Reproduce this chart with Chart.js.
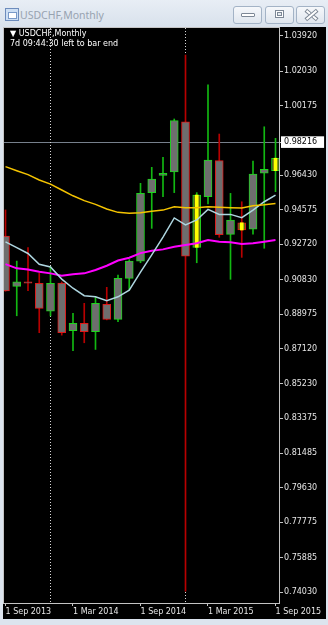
<!DOCTYPE html>
<html>
<head>
<meta charset="utf-8">
<script src="https://cdn.jsdelivr.net/npm/chart.js@4.4.0/dist/chart.umd.min.js"></script>
<style>
  html, body { margin: 0; padding: 0; }
  body { width: 328px; height: 625px; background: #dce4ee; position: relative; overflow: hidden; font-family: "DejaVu Sans", sans-serif; }
  #titlebar { position: absolute; left: 0; top: 0; width: 328px; height: 27px; background: linear-gradient(#e8eef5, #d8e1ec); }
  #icon { position: absolute; left: 5px; top: 8px; width: 12px; height: 11px; border: 1px solid #6d8cbc; background: #cddff4; }
  #icon:after { content: ""; position: absolute; left: 2px; top: 3px; width: 7px; height: 5px; border: 1px solid #7a9ac8; background: #fff; }
  #wtitle { position: absolute; left: 20px; top: 8px; font-family: "Noto Sans", sans-serif; font-size: 10.5px; line-height: 14px; color: #98a3b0; }
  .btn { position: absolute; top: 6px; width: 27px; height: 16px; border: 1px solid #a3b3c6; border-radius: 3px; background: linear-gradient(#f6f8fb, #dfe6ee); }
  #bmin { left: 233px; } #bmax { left: 265px; } #bclose { left: 296px; }
  #bmin i { position: absolute; left: 7px; top: 6px; width: 12px; height: 2px; border: 1px solid #7d8896; border-radius: 1px; background: #fff; }
  #bmax i { position: absolute; left: 9px; top: 3px; width: 7px; height: 6px; border: 1px solid #7d8896; background: #fff; }
  #bmax i:after { content: ""; position: absolute; left: 1px; top: 1px; width: 3px; height: 2px; border: 1px solid #7d8896; background: #e6ebf0; }
  #bclose i, #bclose b { position: absolute; left: 7px; top: 6px; width: 13px; height: 2px; border: 1px solid #7d8896; background: #fff; }
  #bclose i { transform: rotate(40deg); } #bclose b { transform: rotate(-40deg); }
  #wrap { position: absolute; left: 3px; top: 27px; width: 323px; height: 592px; background: #000; }
  canvas { display: block; }
  #legend { position: absolute; left: 7px; top: 2px; font-size: 8px; line-height: 10px; color: #fff; white-space: nowrap; }
</style>
</head>
<body>
<div id="titlebar">
  <div id="icon"></div>
  <div id="wtitle">USDCHF,Monthly</div>
  <div class="btn" id="bmin"><i></i></div>
  <div class="btn" id="bmax"><i></i></div>
  <div class="btn" id="bclose"><i></i><b></b></div>
</div>
<div id="wrap">
  <canvas id="chart" width="323" height="592"></canvas>
  <div id="legend">&#9660;&nbsp;USDCHF,Monthly<br>7d 09:44:30 left to bar end</div>
</div>
<script>
const months = ["Sep 2013", "Oct 2013", "Nov 2013", "Dec 2013", "Jan 2014", "Feb 2014", "Mar 2014", "Apr 2014",
  "May 2014", "Jun 2014", "Jul 2014", "Aug 2014", "Sep 2014", "Oct 2014", "Nov 2014", "Dec 2014",
  "Jan 2015", "Feb 2015", "Mar 2015", "Apr 2015", "May 2015", "Jun 2015", "Jul 2015", "Aug 2015", "Sep 2015"];

const openP  = [0.9317, 0.9046, 0.9071, 0.9062, 0.8913, 0.9064, 0.8808, 0.8847, 0.8802, 0.8950, 0.8869, 0.9089,
  0.9182, 0.9550, 0.9643, 0.9662, 0.9931, 0.9256, 0.9528, 0.9722, 0.9326, 0.9388, 0.9354, 0.9654, 0.9668];
const highP  = [0.9457, 0.9182, 0.9254, 0.9116, 0.9152, 0.9070, 0.8901, 0.8955, 0.8990, 0.9041, 0.9107, 0.9190,
  0.9600, 0.9686, 0.9740, 0.9946, 1.0290, 0.9550, 1.0129, 0.9865, 0.9546, 0.9501, 0.9720, 0.9904, 0.9842];
const lowP   = [0.9020, 0.8888, 0.9023, 0.8797, 0.8887, 0.8784, 0.8700, 0.8743, 0.8707, 0.8866, 0.8856, 0.9026,
  0.9173, 0.9358, 0.9528, 0.9550, 0.7408, 0.9173, 0.9489, 0.9310, 0.9084, 0.9202, 0.9327, 0.9251, 0.9555];
const closeP = [0.9022, 0.9071, 0.9063, 0.8928, 0.9062, 0.8797, 0.8847, 0.8802, 0.8955, 0.8869, 0.9089, 0.9182,
  0.9546, 0.9623, 0.9654, 0.9937, 0.9209, 0.9537, 0.9725, 0.9324, 0.9403, 0.9349, 0.9650, 0.9675, 0.9735];

// moving averages
const maGold    = [0.9690, 0.9668, 0.9647, 0.9618, 0.9596, 0.9564, 0.9533, 0.9507, 0.9487, 0.9462, 0.9444, 0.9439,
  0.9442, 0.9450, 0.9456, 0.9474, 0.9469, 0.9469, 0.9474, 0.9471, 0.9469, 0.9467, 0.9480, 0.9485, 0.9492];
const maBlue    = [0.9285, 0.9254, 0.9223, 0.9165, 0.9150, 0.9085, 0.9036, 0.8996, 0.8990, 0.8969, 0.8990, 0.9026,
  0.9123, 0.9215, 0.9311, 0.9414, 0.9376, 0.9403, 0.9460, 0.9433, 0.9433, 0.9415, 0.9456, 0.9501, 0.9537];
const maMagenta = [0.9166, 0.9143, 0.9137, 0.9125, 0.9116, 0.9103, 0.9111, 0.9116, 0.9134, 0.9157, 0.9185, 0.9200,
  0.9225, 0.9238, 0.9245, 0.9259, 0.9268, 0.9278, 0.9295, 0.9286, 0.9283, 0.9274, 0.9278, 0.9286, 0.9295];

const marked = ["Feb 2015", "Jun 2015", "Sep 2015"];   // bars with yellow fill
const separators = ["Jan 2014", "Jan 2015"];
const xTickMonths = ["Sep 2013", "Mar 2014", "Sep 2014", "Mar 2015", "Sep 2015"];
const yTicks = [1.03920, 1.02030, 1.00175, 0.96430, 0.94575, 0.92720, 0.90830, 0.88975, 0.87120,
  0.85230, 0.83375, 0.81485, 0.79630, 0.77775, 0.75885, 0.74030];
const currentPrice = 0.98216;

const isBull = i => closeP[i] >= openP[i];

const overlay = {
  id: 'overlay',
  beforeDatasetsDraw(chart) {
    const { ctx, chartArea: a, scales: { x, y } } = chart;
    ctx.save();
    ctx.lineWidth = 1;
    ctx.strokeStyle = '#c4c4c4';
    ctx.strokeRect(a.left - 0.5, a.top - 0.5, a.right - a.left + 1, a.bottom - a.top + 1);
    const py = Math.floor(y.getPixelForValue(currentPrice)) + 0.5;
    ctx.strokeStyle = '#77808c';
    ctx.beginPath(); ctx.moveTo(a.left, py); ctx.lineTo(a.right, py); ctx.stroke();
    ctx.strokeStyle = '#d8d8d8';
    ctx.setLineDash([1, 2]);
    separators.forEach(m => {
      const px = Math.floor(x.getPixelForValue(months.indexOf(m))) + 0.5;
      ctx.beginPath(); ctx.moveTo(px, a.top); ctx.lineTo(px, a.bottom); ctx.stroke();
    });
    ctx.restore();
  }
};

const lineSet = (vals, color, w) => ({
  type: 'line',
  data: vals.map((v, i) => ({ x: i, y: v })),
  borderColor: color,
  borderWidth: w,
  pointRadius: 0,
  tension: 0,
  order: 0
});

new Chart("chart", {
  type: "bar",
  data: {
    datasets: [
      {
        data: months.map((m, i) => ({ x: i, y: [lowP[i], highP[i]] })),
        backgroundColor: months.map((m, i) => isBull(i) ? '#12b812' : '#b80000'),
        borderWidth: 0,
        barThickness: 1,
        grouped: false,
        order: 3
      },
      {
        data: months.map((m, i) => ({ x: i, y: [openP[i], closeP[i]] })),
        backgroundColor: months.map(m => marked.includes(m) ? '#56661a' : '#6e6e6e'),
        borderColor: months.map((m, i) => isBull(i) ? '#1ed41e' : '#e01818'),
        borderWidth: 1,
        borderSkipped: false,
        barThickness: 8,
        grouped: false,
        order: 2
      },
      {
        data: marked.map(m => { const i = months.indexOf(m); return { x: i, y: [openP[i], closeP[i]] }; }),
        backgroundColor: '#ffff00',
        borderWidth: 0,
        barThickness: 3,
        grouped: false,
        order: 1
      },
      lineSet(maGold, '#f5c400', 1.5),
      lineSet(maBlue, '#aed6e0', 1.5),
      lineSet(maMagenta, '#ff00ff', 2)
    ]
  },
  options: {
    responsive: false,
    animation: false,
    layout: { padding: { left: 1, top: 1, right: 0, bottom: 0 } },
    plugins: { legend: { display: false }, tooltip: { enabled: false } },
    scales: {
      x: {
        type: 'linear',
        min: -0.133,
        max: 24.311,
        offset: false,
        border: { display: false },
        grid: { drawOnChartArea: false, offset: false, tickLength: 3, color: '#c4c4c4' },
        ticks: {
          autoSkip: false, maxRotation: 0, align: 'start', padding: 1,
          color: '#e6e6e6', font: { family: 'DejaVu Sans', size: 8 },
          callback: v => '1 ' + months[v]
        },
        afterBuildTicks: s => { s.ticks = xTickMonths.map(m => ({ value: months.indexOf(m) })); },
        afterFit: s => { s.height = 16; s.paddingLeft = 0; s.paddingRight = 0; }
      },
      y: {
        position: 'right',
        min: 0.7344,
        max: 1.0435,
        border: { display: false },
        grid: { drawOnChartArea: false, tickLength: 4, color: '#c4c4c4' },
        ticks: {
          padding: 1, crossAlign: 'near',
          font: { family: 'DejaVu Sans', size: 8 },
          color: c => c.tick && c.tick.value === currentPrice ? '#000' : '#e6e6e6',
          showLabelBackdrop: c => !!(c.tick && c.tick.value === currentPrice),
          backdropColor: '#ffffff',
          backdropPadding: { left: 3, right: 7, top: 1, bottom: 1 },
          callback: v => v.toFixed(5)
        },
        afterBuildTicks: s => { s.ticks = yTicks.concat([currentPrice]).map(v => ({ value: v })); },
        afterFit: s => { s.width = 47; s.paddingTop = 0; s.paddingBottom = 0; }
      }
    }
  },
  plugins: [overlay]
});
</script>
</body>
</html>
